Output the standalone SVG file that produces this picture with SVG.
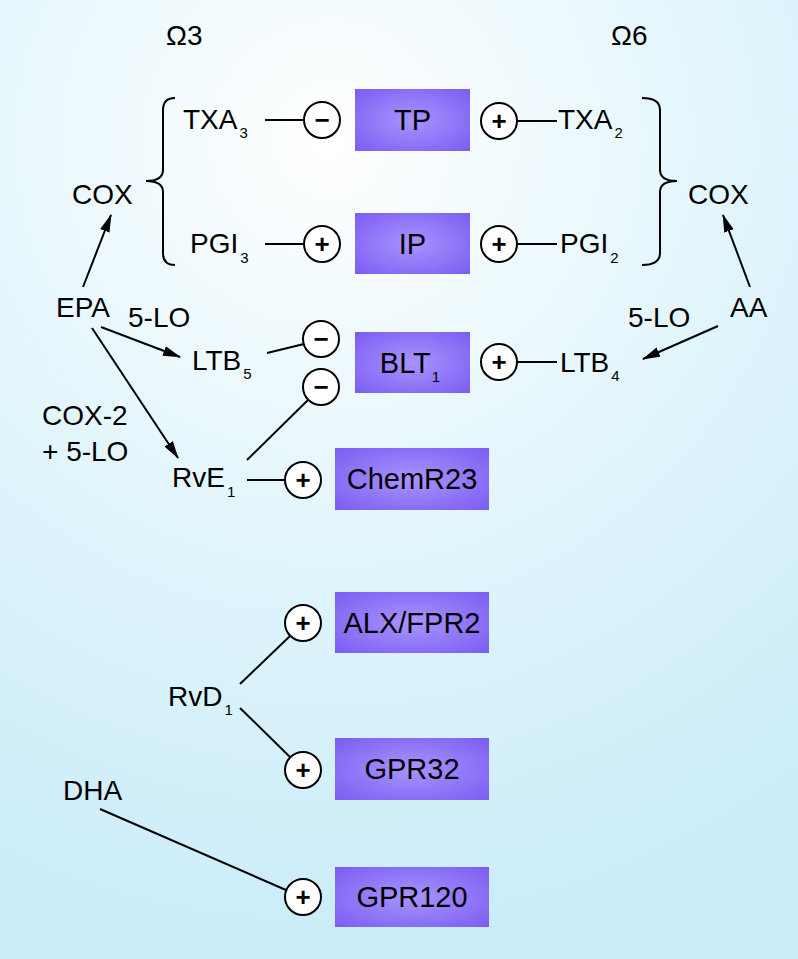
<svg xmlns="http://www.w3.org/2000/svg" width="798" height="959" viewBox="0 0 798 959">
<defs>
<radialGradient id="bg" gradientUnits="userSpaceOnUse" cx="330" cy="140" r="820">
<stop offset="0" stop-color="#ffffff"/>
<stop offset="0.45" stop-color="#e4f6fc"/>
<stop offset="1" stop-color="#c9ecf8"/>
</radialGradient>
<radialGradient id="box" cx="0.5" cy="0.5" r="0.7">
<stop offset="0" stop-color="#a894ff"/>
<stop offset="1" stop-color="#7b5df1"/>
</radialGradient>
<marker id="arr" markerUnits="userSpaceOnUse" markerWidth="20" markerHeight="12" refX="17" refY="5" orient="auto">
<path d="M0,0 L18,5 L0,10 z" fill="#000"/>
</marker>
<style>
text{font-family:"Liberation Sans",Arial,sans-serif;fill:#000}
.lab{font-size:28px}
.sub{font-size:15px}
.box{fill:url(#box)}
.bl{font-size:29px;text-anchor:middle}
.ln{stroke:#000;stroke-width:2;fill:none}
.c{fill:#fff;stroke:#000;stroke-width:2}
.sg{font-size:26px;font-weight:bold;text-anchor:middle}
</style>
</defs>
<rect width="798" height="959" fill="url(#bg)"/>

<g id="headers">
<text class="lab" x="166" y="45">Ω3</text>
<text class="lab" x="611" y="45">Ω6</text>
</g>

<g id="connectors">
<path class="ln" d="M175,98 Q163,98 163,110 L163,170 Q163,181 146,181 Q163,181 163,192 L163,253 Q163,265 175,265"/>
<path class="ln" d="M642,98 Q660,98 660,110 L660,170 Q660,181 677,181 Q660,181 660,192 L660,253 Q660,265 642,265"/>
<line class="ln" x1="265" y1="120" x2="304" y2="120"/>
<line class="ln" x1="517" y1="121" x2="557" y2="121"/>
<line class="ln" x1="265" y1="244" x2="304" y2="244"/>
<line class="ln" x1="517" y1="244" x2="557" y2="244"/>
<line class="ln" x1="267" y1="353" x2="304" y2="344"/>
<line class="ln" x1="247" y1="460" x2="308" y2="400"/>
<line class="ln" x1="247" y1="480" x2="285" y2="480"/>
<line class="ln" x1="517" y1="362" x2="557" y2="362"/>
<line class="ln" x1="240" y1="684" x2="290" y2="636"/>
<line class="ln" x1="240" y1="708" x2="290" y2="757"/>
<line class="ln" x1="100" y1="809" x2="286" y2="890"/>
<line class="ln" x1="83" y1="287" x2="111" y2="215" marker-end="url(#arr)"/>
<line class="ln" x1="750" y1="287" x2="723" y2="215" marker-end="url(#arr)"/>
<line class="ln" x1="101" y1="327" x2="180" y2="357" marker-end="url(#arr)"/>
<line class="ln" x1="92" y1="328" x2="178" y2="458" marker-end="url(#arr)"/>
<line class="ln" x1="718" y1="326" x2="643" y2="359" marker-end="url(#arr)"/>
</g>

<g id="signs">
<circle class="c" cx="322" cy="120" r="18"/><text class="sg" x="322" y="129">−</text>
<circle class="c" cx="499" cy="121" r="18"/><text class="sg" x="499" y="130">+</text>
<circle class="c" cx="322" cy="244" r="18"/><text class="sg" x="322" y="253">+</text>
<circle class="c" cx="499" cy="244" r="18"/><text class="sg" x="499" y="253">+</text>
<circle class="c" cx="321" cy="339" r="18"/><text class="sg" x="321" y="348">−</text>
<circle class="c" cx="321" cy="387" r="18"/><text class="sg" x="321" y="396">−</text>
<circle class="c" cx="499" cy="362" r="18"/><text class="sg" x="499" y="371">+</text>
<circle class="c" cx="303" cy="480" r="18"/><text class="sg" x="303" y="489">+</text>
<circle class="c" cx="303" cy="623" r="18"/><text class="sg" x="303" y="632">+</text>
<circle class="c" cx="303" cy="770" r="18"/><text class="sg" x="303" y="779">+</text>
<circle class="c" cx="303" cy="897" r="18"/><text class="sg" x="303" y="906">+</text>
</g>

<g id="TP"><rect class="box" x="355" y="89" width="115" height="62"/><text class="bl" x="412.5" y="130">TP</text></g>
<g id="IP"><rect class="box" x="355" y="213" width="115" height="61"/><text class="bl" x="412.5" y="254">IP</text></g>
<g id="BLT1"><rect class="box" x="355" y="332" width="115" height="61"/><text class="bl" x="410" y="373">BLT<tspan class="sub" dx="1" dy="9">1</tspan></text></g>
<g id="ChemR23"><rect class="box" x="335" y="448" width="154" height="62"/><text class="bl" x="412" y="489">ChemR23</text></g>
<g id="ALXFPR2"><rect class="box" x="335" y="592" width="154" height="61"/><text class="bl" x="412" y="633">ALX/FPR2</text></g>
<g id="GPR32"><rect class="box" x="335" y="738" width="154" height="62"/><text class="bl" x="412" y="779">GPR32</text></g>
<g id="GPR120"><rect class="box" x="335" y="867" width="154" height="60"/><text class="bl" x="412" y="907">GPR120</text></g>

<g id="TXA3"><text class="lab" x="183" y="129">TXA<tspan class="sub" dx="2" dy="9">3</tspan></text></g>
<g id="PGI3"><text class="lab" x="190" y="253">PGI<tspan class="sub" dx="2" dy="10">3</tspan></text></g>
<g id="TXA2"><text class="lab" x="558" y="129">TXA<tspan class="sub" dx="2" dy="9">2</tspan></text></g>
<g id="PGI2"><text class="lab" x="560" y="253">PGI<tspan class="sub" dx="2" dy="10">2</tspan></text></g>
<g id="COX3"><text class="lab" x="72" y="204">COX</text></g>
<g id="COX6"><text class="lab" x="688" y="204">COX</text></g>
<g id="EPA"><text class="lab" x="56" y="317">EPA</text></g>
<g id="AA"><text class="lab" x="730" y="317">AA</text></g>
<g id="lo1"><text class="lab" x="128" y="327">5-LO</text></g>
<g id="lo2"><text class="lab" x="628" y="327">5-LO</text></g>
<g id="LTB5"><text class="lab" x="192" y="370">LTB<tspan class="sub" dx="2" dy="9">5</tspan></text></g>
<g id="LTB4"><text class="lab" x="560" y="372">LTB<tspan class="sub" dx="2" dy="9">4</tspan></text></g>
<g id="cox2lo"><text class="lab" x="42" y="425">COX-2</text><text class="lab" x="42" y="461">+ 5-LO</text></g>
<g id="RvE1"><text class="lab" x="172" y="487">RvE<tspan class="sub" dx="2" dy="10">1</tspan></text></g>
<g id="RvD1"><text class="lab" x="168" y="706">RvD<tspan class="sub" dx="2" dy="9">1</tspan></text></g>
<g id="DHA"><text class="lab" x="63" y="800">DHA</text></g>
</svg>
